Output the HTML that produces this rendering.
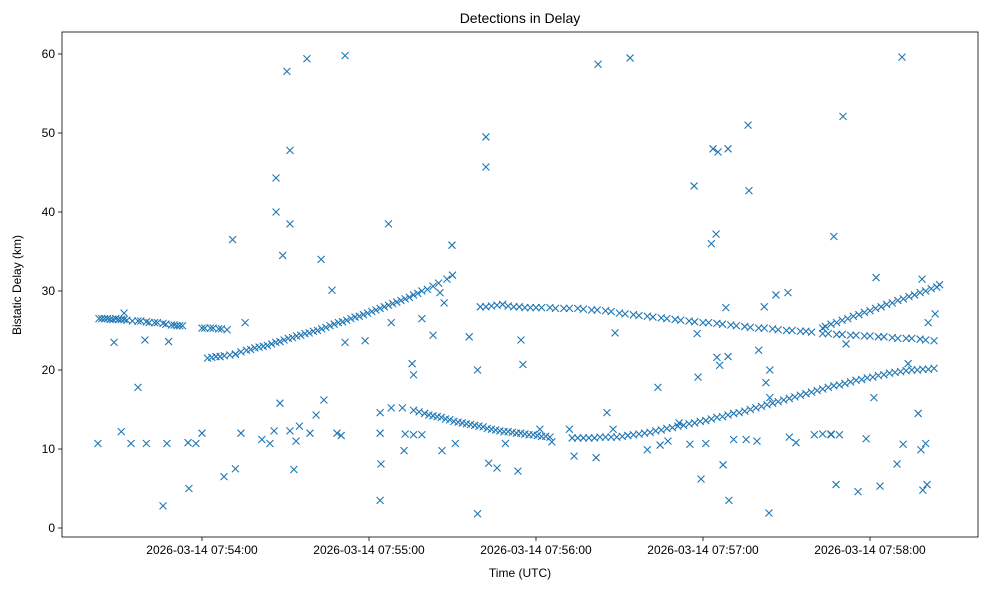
<!DOCTYPE html>
<html><head><meta charset="utf-8"><style>
body{margin:0;background:#fff;}
svg{display:block;font-family:"Liberation Sans",sans-serif;}
</style></head><body>
<svg id="chart" width="989" height="590">
<rect x="0" y="0" width="989" height="590" fill="#fff"/>
<text x="520" y="23" font-size="14" text-anchor="middle">Detections in Delay</text>
<g id="plot"></g>
<rect x="62" y="32" width="916" height="505" fill="none" stroke="#000" stroke-width="0.8"/>
<text x="520" y="577" font-size="12" text-anchor="middle">Time (UTC)</text>
<text transform="translate(21,285) rotate(-90)" font-size="12" text-anchor="middle">Bistatic Delay (km)</text>
</svg>
<script>
// seconds since 2026-03-14 07:53:00
const xTickSecs=[60,120,180,240,300];
const xTickLabels=["2026-03-14 07:54:00","2026-03-14 07:55:00","2026-03-14 07:56:00","2026-03-14 07:57:00","2026-03-14 07:58:00"];
const yTicks=[0,10,20,30,40,50,60];
const trackTimes=[23,25,27,29,31,33,37,40,43,46,49,51,53,60,63,66,69,
62,65,68,72,76,79,82,85,88,91,94,97,100,103,106,109,112,115,118,121,124,127,130,133,136,139,145,148,150,
124,128,132,136,140,143,146,149,152,155,158,161,164,167,170,173,176,179,182,185,195,199,203,207,211,215,219,223,227,231,235,239,243,247,251,255,259,263,267,271,275,279,283,287,291,295,299,303,307,311,315,319,323,
160,164,168,172,176,180,185,190,195,200,205,210,215,220,225,230,235,240,245,250,255,260,265,270,275,279,
283,288,293,298,303,308,313,318,323,
283,286,290,294,298,302,306,310,314,318,322,325,
133,136,139,280,283,286,289];
const trackDelays=[26.5,26.5,26.4,26.5,26.4,26.3,26.2,26.1,26.0,25.9,25.7,25.6,25.6,25.3,25.3,25.2,25.1,
21.5,21.7,21.8,22.0,22.5,22.8,23.0,23.3,23.6,24.0,24.3,24.6,24.9,25.2,25.6,26.0,26.3,26.7,27.0,27.4,27.8,28.2,28.6,29.0,29.5,30.0,31.0,31.5,32,
14.6,15.2,15.2,14.9,14.5,14.2,14.0,13.7,13.4,13.2,13.0,12.8,12.5,12.3,12.2,12.0,11.9,11.8,11.6,11.5,11.4,11.4,11.5,11.5,11.6,11.8,12.0,12.3,12.6,12.9,13.2,13.5,13.8,14.1,14.5,14.8,15.2,15.6,16.0,16.4,16.8,17.2,17.6,18.0,18.3,18.7,19.0,19.3,19.6,19.8,20.0,20.1,20.2,
28.0,28.1,28.3,28.0,27.9,27.9,27.9,27.8,27.8,27.6,27.5,27.2,27.0,26.8,26.6,26.4,26.2,26.0,25.9,25.7,25.5,25.3,25.2,25.0,24.9,24.8,
24.6,24.5,24.4,24.3,24.2,24.1,24.0,23.9,23.7,
25.3,25.8,26.3,26.8,27.3,27.8,28.3,28.8,29.3,29.8,30.3,30.8,
11.9,11.8,11.8,11.8,11.9,11.8,11.8];
const denseTimes=[24,26,28,30,32,35,38,41,44,47,50,52,61,64,67,
63.5,66.5,70,74,77.5,80.5,83.5,86.5,89.5,92.5,95.5,98.5,101.5,104.5,107.5,110.5,113.5,116.5,119.5,122.5,125.5,128.5,131.5,134.5,137.5,141,143,
138,141.5,144.5,147.5,150.5,153.5,156.5,159.5,162.5,165.5,168.5,171.5,174.5,177.5,180.5,183.5,193,197,201,205,209,213,217,221,225,229,233,237,241,245,249,253,257,261,265,269,273,277,281,285,289,293,297,301,305,309,313,317,321,
162,166,170,174,178,182,187,192,197,202,207,212,217,222,227,232,237,242,247,252,257,262,267,272,277,
285,290,295,300,305,310,315,320,
284,288,292,296,300,304,308,312,316,320,324];
const denseDelays=[26.5,26.5,26.4,26.4,26.4,26.2,26.2,26.0,26.0,25.8,25.7,25.6,25.3,25.3,25.2,
21.6,21.7,21.9,22.3,22.6,22.9,23.1,23.5,23.8,24.1,24.4,24.7,25.0,25.4,25.8,26.1,26.5,26.8,27.2,27.6,28.0,28.4,28.8,29.2,29.7,30.2,30.6,
14.7,14.3,14.1,13.8,13.5,13.3,13.1,12.9,12.6,12.4,12.2,12.1,12.0,11.8,11.7,11.6,11.4,11.4,11.4,11.5,11.5,11.7,11.9,12.1,12.4,12.7,13.0,13.3,13.6,14.0,14.3,14.6,15.0,15.4,15.8,16.2,16.6,17.0,17.4,17.8,18.1,18.5,18.8,19.1,19.4,19.7,19.9,20.0,20.1,
28.0,28.2,28.1,28.0,27.9,27.9,27.8,27.8,27.7,27.6,27.4,27.1,26.9,26.7,26.5,26.3,26.1,26.0,25.8,25.6,25.4,25.3,25.1,25.0,24.9,
24.6,24.5,24.4,24.3,24.2,24.0,24.0,23.8,
25.5,26.0,26.5,27.0,27.5,28.0,28.5,29.0,29.5,30.0,30.5];
const outTimes=[22.6,28.4,31,32,34.5,37,39.5,40,46,47.4,48,55,55.3,57.8,60,67.9,71,72,72,74,75.5,81.5,84.4,85.9,86.6,86.6,88,89,90.5,91.6,91.6,91.6,93,93.8,95,97.7,98.8,101,102.8,103.8,106.7,108.5,110,111.4,111.4,118.6,124,124.3,124,127,128,135.5,136,139,143,145.5,147,149.8,151,156,159,159,162,162,163,166,169,173.5,174.6,175.3,181.4,185.7,192,193.7,201.6,202.3,207.7,208.4,213.8,220,223.8,227.4,235.3,236.8,237.9,238.2,239.3,241,243,243.6,244.7,245,245.4,246,247.2,248.2,249,249.3,249,251,256.2,256.5,259.4,260,262,262.6,263.7,264,266.2,270.5,271,273.4,287,287.8,290.3,291.4,295.7,298.6,301.4,302.2,303.6,309.7,311.5,311.9,313.7,317.3,318.7,319,320,320.5,320.9,323.4,318.3,132.6,146.2,205.5,224.6,231.4,255.5,286,264];
const outDelays=[10.7,23.5,12.2,27.2,10.7,17.8,23.8,10.7,2.8,10.7,23.6,10.8,5,10.7,12,6.5,36.5,7.5,22,12,26,11.2,10.7,12.3,40,44.3,15.8,34.5,57.8,47.8,38.5,12.3,7.4,11,12.9,59.4,12,14.3,34,16.2,30.1,12,11.7,59.8,23.5,23.7,12,8.1,3.5,38.5,26,20.8,19.4,26.5,24.4,29.8,28.5,35.8,10.7,24.2,20,1.8,49.5,45.7,8.2,7.6,10.7,7.2,23.8,20.7,12.5,10.9,12.5,9.1,8.9,58.7,12.5,24.7,59.5,9.9,17.8,11,10.6,43.3,24.6,19.1,6.2,10.7,36,48,37.2,21.6,47.6,20.6,8,27.9,48,3.5,21.7,11.2,51,42.7,11,22.5,28,18.4,1.9,20,29.5,29.8,11.5,10.8,36.9,5.5,52.1,23.3,4.6,11.3,16.5,31.7,5.3,8.1,59.6,10.6,20.8,14.5,31.5,4.8,10.7,5.5,26,27.1,9.9,9.8,9.8,14.6,10.5,13.3,11.2,11.9,16.5];

const L=62,R=978,T=32,B=537;
const xS=s=>202+(s-60)*(167/60);
const yS=v=>528-v*7.9;
const NS="http://www.w3.org/2000/svg";
const g=document.getElementById('plot');
function mk(tag,attrs){const e=document.createElementNS(NS,tag);for(const k in attrs)e.setAttribute(k,attrs[k]);return e;}
yTicks.forEach(v=>{
  const y=yS(v);
  const t=mk('line',{x1:L-4,x2:L,y1:y,y2:y,stroke:'#000','stroke-width':0.8});
  
  
  g.appendChild(t);
  const lb=mk('text',{x:L-7,y:y+4,'font-size':12,'text-anchor':'end'});
  
  
  lb.textContent=v;g.appendChild(lb);
});
xTickSecs.forEach((s,i)=>{
  const x=xS(s);
  const t=mk('line',{x1:x,x2:x,y1:B,y2:B+4,stroke:'#000','stroke-width':0.8});
  
  
  g.appendChild(t);
  const lb=mk('text',{x:x,y:B+17,'font-size':12,'text-anchor':'middle'});
  
  
  lb.textContent=xTickLabels[i];g.appendChild(lb);
});
function marker(s,v){
  const x=xS(s),y=yS(v),r=3.5;
  const p=mk('path',{d:`M${x-r},${y-r}L${x+r},${y+r}M${x-r},${y+r}L${x+r},${y-r}`,stroke:'#1f77b4','stroke-width':1.1,fill:'none'});
  
  
  g.appendChild(p);
}
trackTimes.forEach((s,i)=>marker(s,trackDelays[i]));
denseTimes.forEach((s,i)=>marker(s,denseDelays[i]));
outTimes.forEach((s,i)=>marker(s,outDelays[i]));
</script>
</body></html>
